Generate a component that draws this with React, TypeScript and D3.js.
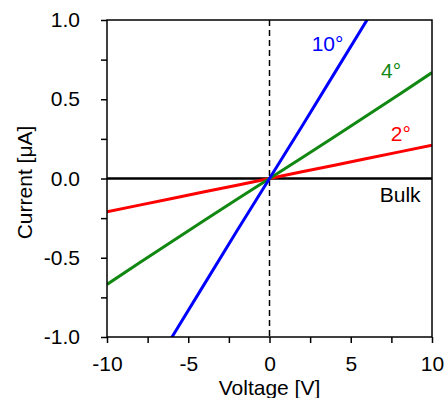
import React, { useEffect, useRef } from "react";
import * as d3 from "d3";

// voltage sweep points [V]
const voltages = [-10, -8, -6, -4, -2, 0, 2, 4, 6, 8, 10];
// current [uA] for each twist angle
const current10 = [-1.67, -1.33, -1.0, -0.665, -0.33, 0, 0.33, 0.665, 1.0, 1.33, 1.67];
const current4 = [-0.668, -0.532, -0.398, -0.264, -0.131, 0, 0.131, 0.264, 0.398, 0.532, 0.668];
const current2 = [-0.21, -0.168, -0.126, -0.084, -0.042, 0, 0.042, 0.084, 0.126, 0.168, 0.21];
const currentBulk = [0, 0, 0, 0, 0, 0, 0, 0, 0, 0, 0];

const xTicks = [-10, -7.5, -5, -2.5, 0, 2.5, 5, 7.5, 10];
const yTicks = [-1, -0.75, -0.5, -0.25, 0, 0.25, 0.5, 0.75, 1];

const series = [
  { name: "Bulk", values: currentBulk, color: "#000000", width: 2.5 },
  { name: "2°", values: current2, color: "#ff0000", width: 3 },
  { name: "4°", values: current4, color: "#118811", width: 3 },
  { name: "10°", values: current10, color: "#0000ff", width: 3 },
];

export default function App() {
  const ref = useRef<SVGSVGElement>(null);

  useEffect(() => {
    const W = 444;
    const H = 398;
    const margin = { top: 20, right: 12, bottom: 61, left: 107 };
    const font = "'Liberation Sans', Arial, sans-serif";
    const fs = 21;

    const svg = d3.select(ref.current);
    svg.selectAll("*").remove();

    const x = d3.scaleLinear().domain([-10, 10]).range([margin.left, W - margin.right]);
    const y = d3.scaleLinear().domain([-1, 1]).range([H - margin.bottom, margin.top]);

    const defs = svg.append("defs");
    defs
      .append("clipPath")
      .attr("id", "plot-clip")
      .append("rect")
      .attr("x", x(-10))
      .attr("y", y(1))
      .attr("width", x(10) - x(-10))
      .attr("height", y(-1) - y(1));

    // dashed line at V = 0
    svg
      .append("line")
      .attr("x1", x(0))
      .attr("x2", x(0))
      .attr("y1", y(1))
      .attr("y2", y(-1))
      .attr("stroke", "#000")
      .attr("stroke-width", 1.5)
      .attr("stroke-dasharray", "6,4");

    const line = d3
      .line<number>()
      .x((d, i) => x(voltages[i]))
      .y((d) => y(d));

    const plot = svg.append("g").attr("clip-path", "url(#plot-clip)");
    series.forEach((s) => {
      plot
        .append("path")
        .attr("d", line(s.values))
        .attr("fill", "none")
        .attr("stroke", s.color)
        .attr("stroke-width", s.width);
    });

    // frame
    svg
      .append("rect")
      .attr("x", x(-10))
      .attr("y", y(1))
      .attr("width", x(10) - x(-10))
      .attr("height", y(-1) - y(1))
      .attr("fill", "none")
      .attr("stroke", "#000")
      .attr("stroke-width", 1.5);

    const xAxis = svg
      .append("g")
      .attr("transform", `translate(0,${y(-1)})`)
      .call(
        d3
          .axisBottom(x)
          .tickValues(xTicks)
          .tickSize(6)
          .tickPadding(13)
          .tickFormat((d) => (Number(d) % 5 === 0 ? String(d) : ""))
      );
    xAxis.select(".domain").remove();
    xAxis.selectAll("line").attr("stroke-width", 1.5);
    xAxis
      .selectAll("text")
      .attr("font-family", font)
      .attr("font-size", fs)
      .attr("fill", "#000");

    const yAxis = svg
      .append("g")
      .attr("transform", `translate(${x(-10)},0)`)
      .call(
        d3
          .axisLeft(y)
          .tickValues(yTicks)
          .tickSize(6)
          .tickPadding(21)
          .tickFormat((d) => (Number(d) % 0.5 === 0 ? Number(d).toFixed(1) : ""))
      );
    yAxis.select(".domain").remove();
    yAxis.selectAll("line").attr("stroke-width", 1.5);
    yAxis
      .selectAll("text")
      .attr("font-family", font)
      .attr("font-size", fs)
      .attr("fill", "#000");

    // axis titles
    svg
      .append("text")
      .attr("x", x(0))
      .attr("y", 395)
      .attr("text-anchor", "middle")
      .attr("font-family", font)
      .attr("font-size", fs)
      .text("Voltage [V]");

    svg
      .append("text")
      .attr("transform", `translate(32,${y(0) + 4}) rotate(-90)`)
      .attr("text-anchor", "middle")
      .attr("font-family", font)
      .attr("font-size", fs)
      .text("Current [μA]");

    // series labels
    const labels = [
      { text: "10°", color: "#0000ff", v: 4.55, i: 0.805 },
      { text: "4°", color: "#118811", v: 8.1, i: 0.635 },
      { text: "2°", color: "#ff0000", v: 8.7, i: 0.237 },
      { text: "Bulk", color: "#000000", v: 9.3, i: -0.148 },
    ];
    svg
      .append("g")
      .selectAll("text")
      .data(labels)
      .enter()
      .append("text")
      .attr("x", (d) => x(d.v))
      .attr("y", (d) => y(d.i))
      .attr("text-anchor", "end")
      .attr("font-family", font)
      .attr("font-size", fs)
      .attr("fill", (d) => d.color)
      .text((d) => d.text);
  }, []);

  return (
    <svg
      ref={ref}
      width={444}
      height={398}
      style={{ position: "absolute", left: 0, top: 0, background: "#fff" }}
    />
  );
}
